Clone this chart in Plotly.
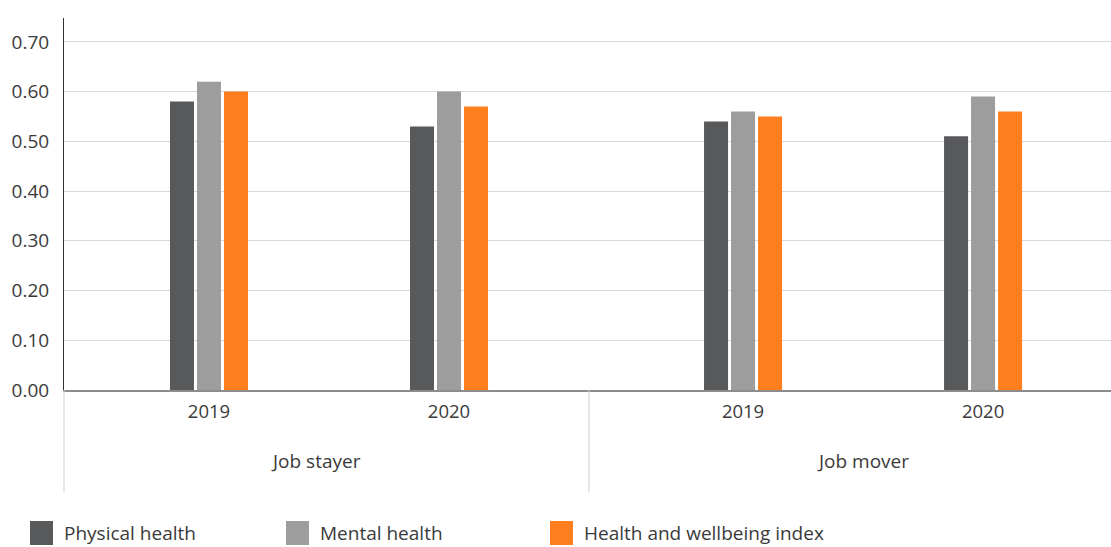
import plotly.graph_objects as go

# ---- data ----
groups = ["Job stayer", "Job mover"]
years = ["2019", "2020"]
series_names = ["Physical health", "Mental health", "Health and wellbeing index"]
physical = [0.58, 0.53, 0.54, 0.51]
mental = [0.62, 0.60, 0.56, 0.59]
wellbeing = [0.60, 0.57, 0.55, 0.56]
y_ticks = [0.0, 0.1, 0.2, 0.3, 0.4, 0.5, 0.6, 0.7]

colors = ["#58595b", "#9d9d9d", "#ff7f1f"]
series_values = [physical, mental, wellbeing]

# ---- layout geometry ----
W, H = 1111, 547
ML, MR, MT, MB = 64, 0, 18, 157
plot_w = W - ML - MR
plot_h = H - MT - MB

GROUP_STEP = 2.225  # years per group plus gap between groups
x_pos = [g * GROUP_STEP + i for g in range(len(groups)) for i in range(len(years))]
x_text = [y for _ in groups for y in years]
group_centers = [g * GROUP_STEP + (len(years) - 1) / 2 for g in range(len(groups))]

bar_w = 0.1
offsets = [-0.1625, -0.05, 0.0625]

fig = go.Figure()
for name, vals, col, off in zip(series_names, series_values, colors, offsets):
    fig.add_trace(go.Bar(
        x=x_pos, y=vals, name=name, marker_color=col, marker_line_width=0,
        width=bar_w, offset=off, showlegend=False,
    ))

FONT = "Open Sans"
TXT = "#3a3a3a"

def px_x(px):
    return (px - ML) / plot_w

def px_y(py):
    return (H - MB - py) / plot_h

shapes = []
annotations = []
# lower extension of left axis and group divider
shapes.append(dict(type="line", xref="paper", yref="paper", x0=0, x1=0,
                   y0=0, y1=px_y(492), line=dict(color="#cfcfcf", width=1)))
shapes.append(dict(type="line", xref="x", yref="paper", x0=1.583, x1=1.583,
                   y0=0, y1=px_y(492), line=dict(color="#cfcfcf", width=1)))

group_label_shift = [-0.055, 0.0]
for gname, gc, sh in zip(groups, group_centers, group_label_shift):
    annotations.append(dict(x=gc + sh, y=px_y(461), xref="x", yref="paper", text=gname,
                             showarrow=False, font=dict(family=FONT, size=19, color=TXT),
                             xanchor="center", yanchor="middle"))

# manual legend
legend_sq_x = [30, 286, 550]
for name, col, sx in zip(series_names, colors, legend_sq_x):
    shapes.append(dict(type="rect", xref="paper", yref="paper",
                       x0=px_x(sx), x1=px_x(sx + 23), y0=px_y(545), y1=px_y(521),
                       fillcolor=col, line=dict(width=0)))
    annotations.append(dict(x=px_x(sx + 32), y=px_y(533), xref="paper", yref="paper",
                             text=name, showarrow=False, xanchor="left", yanchor="middle",
                             font=dict(family=FONT, size=19, color=TXT)))

fig.update_layout(
    width=W, height=H,
    margin=dict(l=ML, r=MR, t=MT, b=MB, pad=0),
    paper_bgcolor="white", plot_bgcolor="white",
    barmode="group",
    font=dict(family=FONT, size=18, color=TXT),
    shapes=shapes, annotations=annotations,
    showlegend=False,
)
fig.update_xaxes(
    range=[-0.604, 3.758], tickvals=x_pos, ticktext=x_text,
    showgrid=False, zeroline=False, showline=True, linecolor="#8c8c8c", linewidth=2,
    ticks="outside", ticklen=4, tickcolor="rgba(0,0,0,0)",
    tickfont=dict(family=FONT, size=18.5, color=TXT),
)
fig.update_yaxes(
    range=[0, 0.748], tickvals=y_ticks, tickformat=".2f",
    showgrid=True, gridcolor="#d9d9d9", gridwidth=1, zeroline=False,
    showline=True, linecolor="#333333", linewidth=1,
    ticks="outside", ticklen=10, tickcolor="rgba(0,0,0,0)",
    tickfont=dict(family=FONT, size=19, color=TXT),
)

fig.write_html("out.html", config={"displayModeBar": False},
               post_script="document.body.style.margin='0';document.body.style.overflow='hidden';")
